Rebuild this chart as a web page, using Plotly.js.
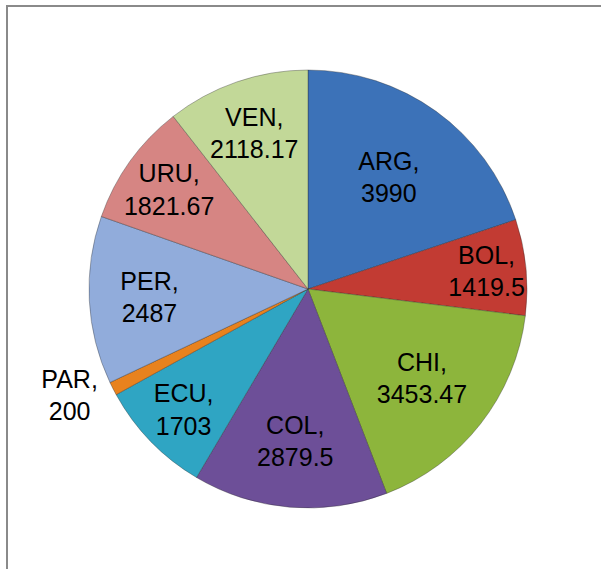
<!DOCTYPE html>
<html>
<head>
<meta charset="utf-8">
<script src="https://cdn.plot.ly/plotly-3.0.1.min.js"></script>
<style>
html,body{margin:0;padding:0;background:#fff;}
#chart{width:601px;height:569px;}
</style>
</head>
<body>
<div id="chart"></div>
<script>
const countries = ["ARG","BOL","CHI","COL","ECU","PAR","PER","URU","VEN"];
const values = [3990, 1419.5, 3453.47, 2879.5, 1703, 200, 2487, 1821.67, 2118.17];
const valueLabels = ["3990","1419.5","3453.47","2879.5","1703","200","2487","1821.67","2118.17"];
const sliceColors = ["#3C72B8","#C23B33","#8DB53C","#6D4F98","#2FA5C3","#E8821E","#91ACDB","#D68583","#C2D898"];
const textPos = ["inside","inside","inside","inside","inside","outside","inside","inside","inside"];

const W = 601, H = 569;
const cx = 308, cy = 289, r = 219;
const FONT = "Liberation Sans, Arial, sans-serif";

const trace = {
  type: "pie",
  labels: countries,
  values: values,
  text: valueLabels,
  sort: false,
  direction: "clockwise",
  rotation: 0,
  marker: {colors: sliceColors, line: {color: "rgba(40,40,40,0.35)", width: 1}},
  texttemplate: "%{label},<br>%{text}",
  textposition: textPos,
  insidetextorientation: "horizontal",
  textfont: {family: FONT, size: 25, color: "#000"},
  outsidetextfont: {family: FONT, size: 25, color: "#000"},
  hoverinfo: "none",
  showlegend: false,
  domain: {x: [(cx - r) / W, (cx + r) / W], y: [1 - (cy + r) / H, 1 - (cy - r) / H]}
};

const layout = {
  width: W, height: H,
  margin: {l: 0, r: 0, t: 0, b: 0},
  paper_bgcolor: "#fff",
  showlegend: false,
  uniformtext: {minsize: 25, mode: "show"},
  shapes: [{
    type: "rect", xref: "paper", yref: "paper",
    x0: 7 / W, x1: 1.2, y0: -0.2, y1: 1 - 6 / H,
    line: {color: "#8a8a8a", width: 2}
  }]
};

Plotly.newPlot("chart", [trace], layout, {displayModeBar: false, staticPlot: true});
</script>
</body>
</html>
